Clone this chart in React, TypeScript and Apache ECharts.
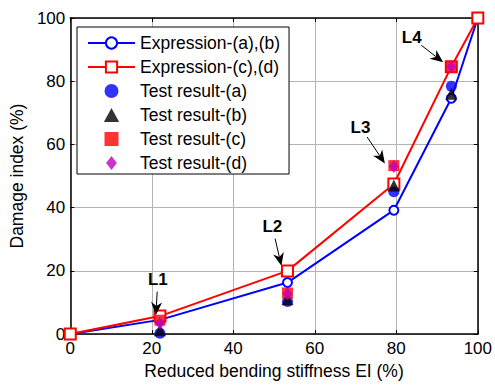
import React, { useEffect, useRef } from "react";
import * as echarts from "echarts";

const xExpr = [0, 22, 53.3, 79.4, 93.5, 100];
const exprAB = [0, 4.5, 16.3, 39.2, 74.6, 100];
const exprCD = [0, 5.7, 20, 47.5, 84.6, 100];
const xTest = [22, 53.3, 79.4, 93.5];
const testA = [0.3, 10.3, 45, 78.4];
const testB = [1.2, 11, 47, 76];
const testC = [4.4, 13, 53.3, 84.6];
const testD = [3.4, 12.8, 53, 84.6];
const annLabels = ["L1", "L2", "L3", "L4"];
const annTextX = [21.5, 49.6, 71.2, 83.8];
const annTextY = [17.2, 33.9, 65.5, 93.7];
const annTipX = [21, 51.8, 77.2, 91.5];
const annTipY = [6, 21.6, 54, 86];

const FONT = "Arial, 'Liberation Sans', sans-serif";

const ICON_CIRCLE = "path://M12,6 A6,6 0 1 1 0,6 A6,6 0 1 1 12,6 Z";
const ICON_TRI = "path://M6,0 L12,11 L0,11 Z";
const ICON_SQ = "path://M0,0 L10,0 L10,10 L0,10 Z";
const ICON_DIA = "path://M5,0 L10,6.5 L5,13 L0,6.5 Z";

export default function App() {
  const ref = useRef<HTMLDivElement>(null);
  useEffect(() => {
    if (!ref.current) return;
    const chart = echarts.init(ref.current, null, { renderer: "svg" });
    const pair = (xs: number[], ys: number[]) => xs.map((x, i) => [x, ys[i]]);
    const annData = annLabels.map((_, i) => [annTextX[i], annTextY[i], annTipX[i], annTipY[i]]);
    const axisCommon = {
      type: "value",
      min: 0,
      max: 100,
      interval: 20,
      axisLine: { show: true, onZero: false, lineStyle: { color: "#000", width: 1.5 } },
      axisTick: { show: true, inside: true, length: 4, lineStyle: { color: "#000" } },
      splitLine: { show: false },
    };
    chart.setOption({
      animation: false,
      backgroundColor: "#fff",
      grid: { left: 68, right: 14, top: 18, bottom: 48, containLabel: false },
      legend: {
        orient: "vertical",
        left: 77,
        top: 27,
        backgroundColor: "#fff",
        borderColor: "#000",
        borderWidth: 1,
        borderRadius: 0,
        padding: [6, 9, 1, 10],
        itemWidth: 47,
        itemHeight: 14,
        itemGap: 4,
        symbolKeepAspect: true,
        textStyle: { fontSize: 17.5, fontFamily: FONT, color: "#000", lineHeight: 20 },
        data: [
          { name: "Expression-(a),(b)" },
          { name: "Expression-(c),(d)" },
          { name: "Test result-(a)", icon: ICON_CIRCLE },
          { name: "Test result-(b)", icon: ICON_TRI },
          { name: "Test result-(c)", icon: ICON_SQ },
          { name: "Test result-(d)", icon: ICON_DIA },
        ],
      },
      xAxis: [
        {
          ...axisCommon,
          position: "bottom",
          name: "Reduced bending stiffness EI (%)",
          nameLocation: "middle",
          nameGap: 26,
          nameTextStyle: { fontSize: 17.5, fontFamily: FONT, color: "#000" },
          axisLabel: { fontSize: 17, fontFamily: FONT, color: "#000", margin: 6 },
          splitLine: { show: true, lineStyle: { color: "#b4b4b4", width: 1 } },
        },
        {
          ...axisCommon,
          position: "top",
          axisLabel: { show: false },
        },
      ],
      yAxis: [
        {
          ...axisCommon,
          position: "left",
          name: "Damage index (%)",
          nameLocation: "middle",
          nameGap: 42,
          nameTextStyle: { fontSize: 17.5, fontFamily: FONT, color: "#000" },
          axisLabel: { fontSize: 17, fontFamily: FONT, color: "#000", margin: 5 },
          splitLine: { show: true, lineStyle: { color: "#b4b4b4", width: 1 } },
        },
        {
          ...axisCommon,
          position: "right",
          axisLabel: { show: false },
        },
      ],
      series: [
        {
          name: "Expression-(a),(b)",
          type: "line",
          data: pair(xExpr, exprAB),
          symbol: "emptyCircle",
          symbolSize: 9,
          lineStyle: { color: "#0000ff", width: 2 },
          itemStyle: { color: "#0000ff", borderColor: "#0000ff", borderWidth: 2 },
          z: 2,
        },
        {
          name: "Expression-(c),(d)",
          type: "line",
          data: pair(xExpr, exprCD),
          symbol: "emptyRect",
          symbolSize: 11,
          lineStyle: { color: "#ff0000", width: 2 },
          itemStyle: { color: "#ff0000", borderColor: "#ff0000", borderWidth: 2 },
          z: 2,
        },
        {
          name: "Test result-(a)",
          type: "scatter",
          data: pair(xTest, testA),
          symbol: "circle",
          symbolSize: 11,
          itemStyle: { color: "#0000ff" },
          z: 3,
        },
        {
          name: "Test result-(b)",
          type: "scatter",
          data: pair(xTest, testB),
          symbol: "triangle",
          symbolSize: 12,
          itemStyle: { color: "#000000" },
          z: 3,
        },
        {
          name: "Test result-(c)",
          type: "scatter",
          data: pair(xTest, testC),
          symbol: "rect",
          symbolSize: 11,
          itemStyle: { color: "#ff0000" },
          z: 3,
        },
        {
          name: "Test result-(d)",
          type: "scatter",
          data: pair(xTest, testD),
          symbol: "diamond",
          symbolSize: [10, 13],
          itemStyle: { color: "#bf00bf" },
          z: 3,
        },
        {
          type: "custom",
          name: "annotations",
          data: annData,
          encode: { x: 0, y: 1 },
          clip: false,
          silent: true,
          z: 5,
          renderItem: (params: any, api: any) => {
            const i = params.dataIndex;
            const t = api.coord([api.value(0), api.value(1)]);
            const tip = api.coord([api.value(2), api.value(3)]);
            const dx = tip[0] - t[0];
            const dy = tip[1] - t[1];
            const len = Math.sqrt(dx * dx + dy * dy);
            const ux = dx / len;
            const uy = dy / len;
            const start = [t[0] + ux * 12, t[1] + uy * 12];
            const headLen = 13;
            const headW = 5.5;
            const base = [tip[0] - ux * headLen, tip[1] - uy * headLen];
            const notch = [tip[0] - ux * headLen * 0.7, tip[1] - uy * headLen * 0.7];
            const px = -uy;
            const py = ux;
            return {
              type: "group",
              children: [
                {
                  type: "text",
                  style: {
                    text: annLabels[i],
                    x: t[0],
                    y: t[1],
                    align: "center",
                    verticalAlign: "middle",
                    font: "bold 17px " + FONT,
                    fill: "#000",
                  },
                },
                {
                  type: "line",
                  shape: { x1: start[0], y1: start[1], x2: notch[0], y2: notch[1] },
                  style: { stroke: "#000", lineWidth: 1 },
                },
                {
                  type: "polygon",
                  shape: {
                    points: [
                      [tip[0], tip[1]],
                      [base[0] + px * headW, base[1] + py * headW],
                      [notch[0], notch[1]],
                      [base[0] - px * headW, base[1] - py * headW],
                    ],
                  },
                  style: { fill: "#000" },
                },
              ],
            };
          },
        },
      ],
    });
    return () => chart.dispose();
  }, []);
  return (
    <div
      ref={ref}
      style={{ position: "fixed", left: 0, top: 0, width: 495, height: 385, background: "#fff" }}
    />
  );
}
